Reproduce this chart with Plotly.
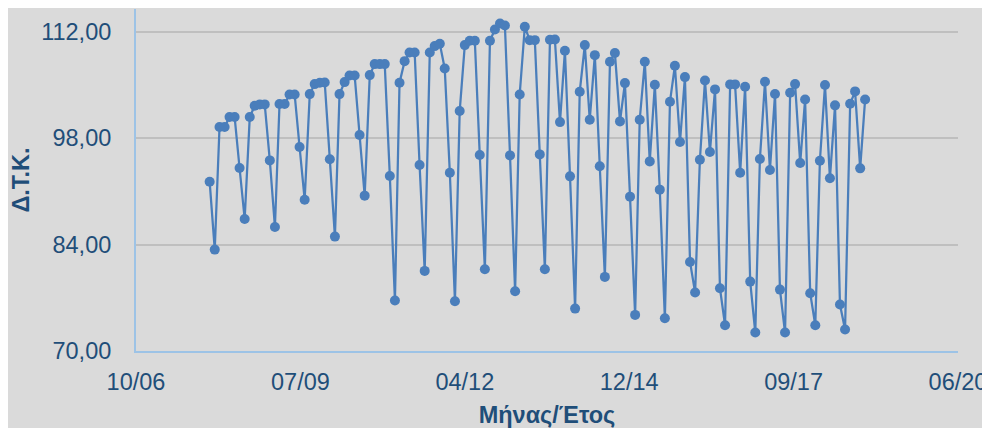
import pandas as pd
import plotly.graph_objects as go

start_month = "2008-01-01"
n_months = 132
values = [
    92.28, 83.34, 99.47, 99.47, 100.78, 100.78, 94.08, 87.37, 100.78, 102.27, 102.45, 102.45,
    95.08, 86.32, 102.49, 102.49, 103.76, 103.76, 96.84, 89.91, 103.80, 105.12, 105.30, 105.34,
    95.22, 85.05, 103.80, 105.38, 106.26, 106.26, 98.42, 90.44, 106.30, 107.75, 107.75, 107.75,
    93.03, 76.64, 105.30, 108.14, 109.28, 109.28, 94.47, 80.54, 109.28, 110.12, 110.42, 107.18,
    93.46, 76.55, 101.57, 110.25, 110.82, 110.82, 95.79, 80.76, 110.82, 112.31, 113.10, 112.83,
    95.74, 77.86, 103.76, 112.66, 110.90, 110.90, 95.87, 80.76, 110.95, 110.99, 100.12, 109.50,
    92.98, 75.58, 104.11, 110.25, 100.43, 108.93, 94.30, 79.75, 108.06, 109.20, 100.21, 105.25,
    90.31, 74.75, 100.43, 108.06, 94.95, 105.03, 91.23, 74.31, 102.80, 107.53, 97.50, 106.04,
    81.72, 77.69, 95.17, 105.60, 96.18, 104.42, 78.26, 73.39, 105.08, 105.08, 93.46, 104.77,
    79.13, 72.43, 95.26, 105.43, 93.81, 103.81, 78.08, 72.43, 103.98, 105.12, 94.73, 103.10,
    77.60, 73.39, 95.04, 104.99, 92.72, 102.32, 76.11, 72.82, 102.53, 104.16, 94.03, 103.10,
]
x_tick_dates = ["2006-10-10", "2009-07-06", "2012-04-01", "2014-12-27", "2017-09-22", "2020-06-18"]
y_ticks = [70, 84, 98, 112]
x_title = "Μήνας/Έτος"
y_title = "Δ.Τ.Κ."

dates = pd.date_range(start_month, periods=n_months, freq="MS")

BG = "#dadada"
TXT = "#1f4e79"
AXIS = "#9dc3e6"
LINE = "#4a7ebb"
FONT = "Liberation Sans, Arial, sans-serif"
FS = 23.5

fig = go.Figure(
    go.Scatter(
        x=dates, y=values, mode="lines+markers",
        line=dict(color=LINE, width=2.25),
        marker=dict(color=LINE, size=10),
        hoverinfo="x+y",
    )
)

fig.update_layout(
    width=990, height=428,
    paper_bgcolor=BG, plot_bgcolor=BG,
    margin=dict(l=128, r=40, t=1, b=85),
    separators=",.",
    showlegend=False,
    font=dict(family=FONT, size=FS, color=TXT),
)
fig.update_xaxes(
    type="date",
    range=[x_tick_dates[0], x_tick_dates[-1]],
    tickvals=x_tick_dates,
    tickformat="%m/%y",
    showgrid=False,
    showline=True, linecolor=AXIS, linewidth=2,
    zeroline=False, automargin=False,
    ticks="", ticklabelstandoff=9,
    tickfont=dict(size=FS, color=TXT),
    title=dict(text=x_title, font=dict(size=FS, color=TXT, family=FONT, weight="bold"), standoff=12),
)
fig.update_yaxes(
    range=[70, 115],
    tickvals=y_ticks,
    tickformat=".2f",
    showgrid=True, gridcolor="#bfbfbf", gridwidth=1.5,
    showline=True, linecolor=AXIS, linewidth=2,
    zeroline=False, automargin=False,
    ticks="", ticklabelstandoff=18,
    tickfont=dict(size=FS, color=TXT),
    title=dict(text=y_title, font=dict(size=FS, color=TXT, family=FONT, weight="bold"), standoff=10),
)

fig.write_html("out.html")
